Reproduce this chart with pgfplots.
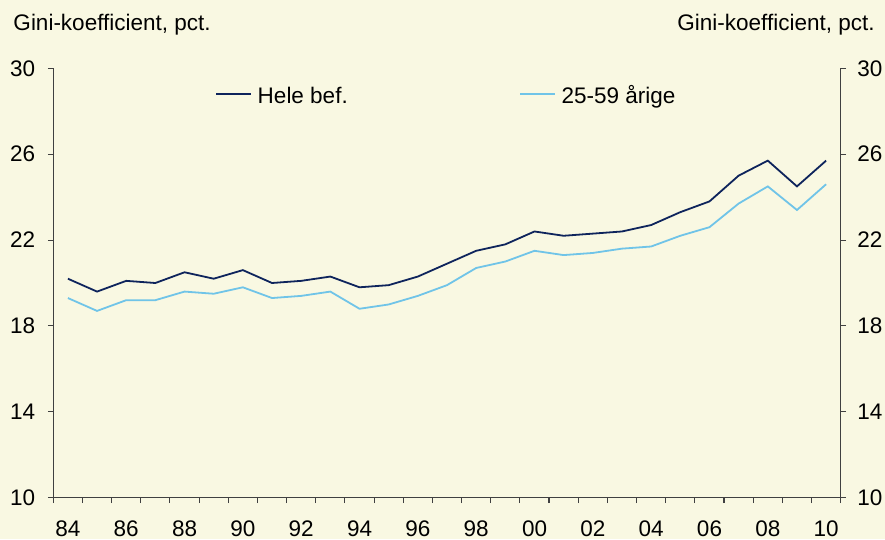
\documentclass[border=0pt]{standalone}
\usepackage{pgfplots}
\pgfplotsset{compat=1.18}
\usepackage{fontspec}
\setmainfont{Liberation Sans}
\definecolor{bg}{RGB}{249,248,226}
\definecolor{navy}{RGB}{14,36,92}
\definecolor{lblue}{RGB}{112,196,232}
\definecolor{axc}{RGB}{64,64,64}
\begin{document}
\begin{tikzpicture}[font=\fontsize{22.5}{27}\selectfont]
\path[use as bounding box, fill=bg] (-53.3pt,-41.3pt) rectangle (831.7pt,497.7pt);
\node[anchor=base west, inner sep=0pt] at (-40pt,467pt) {Gini-koefficient, pct.};
\node[anchor=base east, inner sep=0pt] at (821.5pt,467pt) {Gini-koefficient, pct.};
\begin{axis}[
  at={(0pt,0pt)}, anchor=south west,
  scale only axis, width=787.4pt, height=429.4pt,
  xmin=1983.5, xmax=2010.5, ymin=10, ymax=30,
  axis x line*=bottom, axis y line*=left,
  axis line style={-, draw=axc, line width=1.1pt},
  tick align=outside, major tick length=5.5pt,
  tick style={draw=axc, line width=1.1pt},
  ytick={10,14,18,22,26,30},
  xtick={1983.5,1984.5,...,2010.5},
  xticklabels={},
  extra x ticks={1984,1986,...,2010},
  extra x tick labels={84,86,88,90,92,94,96,98,00,02,04,06,08,10},
  extra x tick style={tick style={draw=none}},
  /pgf/number format/assume math mode=true,
  yticklabel style={anchor=east, inner sep=0pt, xshift=-12.5pt},
  xticklabel style={anchor=base, inner sep=0pt, yshift=-33pt},
  legend style={draw=none, fill=none, inner sep=0pt, outer sep=0pt,
    nodes={inner sep=0pt, anchor=base west},
    at={(rel axis cs:0.2058,0.937)}, anchor=west,
    legend columns=2,
    /tikz/every odd column/.append style={column sep=5.6pt},
    /tikz/every even column/.append style={column sep=171.4pt}},
  legend image code/.code={\draw[#1] (0pt,9.7pt) -- (35pt,9.7pt);},
  clip=false,
]
\addplot[navy, line width=1.8pt] coordinates {
(1984,20.2)(1985,19.6)(1986,20.1)(1987,20.0)(1988,20.5)(1989,20.2)(1990,20.6)
(1991,20.0)(1992,20.1)(1993,20.3)(1994,19.8)(1995,19.9)(1996,20.3)(1997,20.9)
(1998,21.5)(1999,21.8)(2000,22.4)(2001,22.2)(2002,22.3)(2003,22.4)(2004,22.7)
(2005,23.3)(2006,23.8)(2007,25.0)(2008,25.7)(2009,24.5)(2010,25.7)};
\addlegendentry{Hele bef.}
\addplot[lblue, line width=1.8pt] coordinates {
(1984,19.3)(1985,18.7)(1986,19.2)(1987,19.2)(1988,19.6)(1989,19.5)(1990,19.8)
(1991,19.3)(1992,19.4)(1993,19.6)(1994,18.8)(1995,19.0)(1996,19.4)(1997,19.9)
(1998,20.7)(1999,21.0)(2000,21.5)(2001,21.3)(2002,21.4)(2003,21.6)(2004,21.7)
(2005,22.2)(2006,22.6)(2007,23.7)(2008,24.5)(2009,23.4)(2010,24.6)};
\addlegendentry{25-59 årige}
\end{axis}
\begin{axis}[
  at={(0pt,0pt)}, anchor=south west,
  scale only axis, width=787.4pt, height=429.4pt,
  xmin=1983.5, xmax=2010.5, ymin=10, ymax=30,
  axis x line=none, axis y line*=right,
  axis line style={-, draw=axc, line width=1.1pt},
  tick align=outside, major tick length=5.5pt,
  tick style={draw=axc, line width=1.1pt},
  ytick={10,14,18,22,26,30},
  /pgf/number format/assume math mode=true,
  yticklabel style={anchor=west, inner sep=0pt, xshift=11pt},
]
\addplot[draw=none] coordinates {(1984,10)};
\end{axis}
\end{tikzpicture}
\end{document}
